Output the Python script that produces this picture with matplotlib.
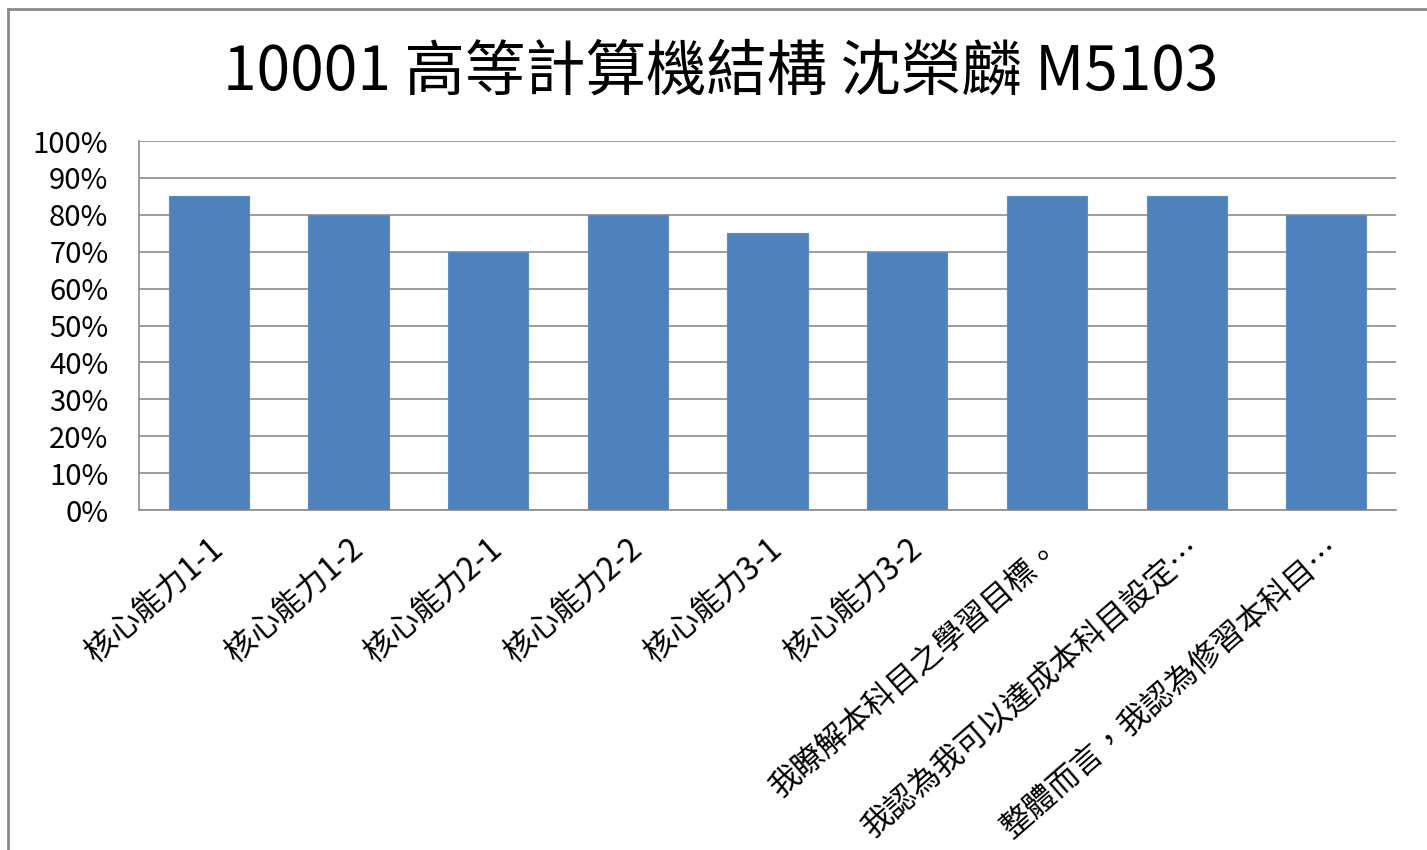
import numpy as np
import matplotlib
matplotlib.use('Agg')
import matplotlib.pyplot as plt
from matplotlib.lines import Line2D
from matplotlib.ticker import PercentFormatter

plt.rcParams['font.family'] = ['Noto Sans CJK TC', 'DejaVu Sans']

title = '10001 高等計算機結構 沈榮麟 M5103'
categories = ['核心能力1-1', '核心能力1-2', '核心能力2-1', '核心能力2-2',
              '核心能力3-1', '核心能力3-2', '我瞭解本科目之學習目標。',
              '我認為我可以達成本科目設定…', '整體而言，我認為修習本科目…']
values = [0.85, 0.80, 0.70, 0.80, 0.75, 0.70, 0.85, 0.85, 0.80]

fig = plt.figure(figsize=(14.27, 8.5), dpi=100)
ax = fig.add_axes([0.0974, 0.40, 0.8809, 0.434])

x = np.arange(len(categories))
ax.bar(x, values, width=0.573, color='#4F81BD', edgecolor='#5B8CC6', linewidth=0.8, zorder=3)

ax.set_xlim(-0.5, len(categories) - 0.5)
ax.set_ylim(0, 1)
ax.set_yticks(np.arange(0, 1.01, 0.1))
ax.yaxis.set_major_formatter(PercentFormatter(1.0, decimals=0))
ax.grid(axis='y', color='#8c8c8c', linewidth=1.2, zorder=0)
ax.set_axisbelow(True)

for side in ['top', 'right']:
    ax.spines[side].set_visible(False)
for side in ['left', 'bottom']:
    ax.spines[side].set_color('#8c8c8c')
    ax.spines[side].set_linewidth(1.2)

ax.tick_params(axis='y', length=0, pad=22, labelsize=21)
ax.tick_params(axis='x', length=0, pad=17, labelsize=22.5)
ax.set_xticks(x)
ax.set_xticklabels(categories, rotation=41, ha='right', va='top', rotation_mode='anchor')

fig.text(0.505, 0.915, title, ha='center', va='center', fontsize=43.5)

# outer chart border (left and top edges visible)
fig.add_artist(Line2D([0.0056, 0.0056], [0, 0.989], transform=fig.transFigure, color='#8a8a8a', linewidth=2))
fig.add_artist(Line2D([0.0056, 1], [0.989, 0.989], transform=fig.transFigure, color='#8a8a8a', linewidth=2))

fig.savefig('out.png', dpi=100, facecolor='white')
